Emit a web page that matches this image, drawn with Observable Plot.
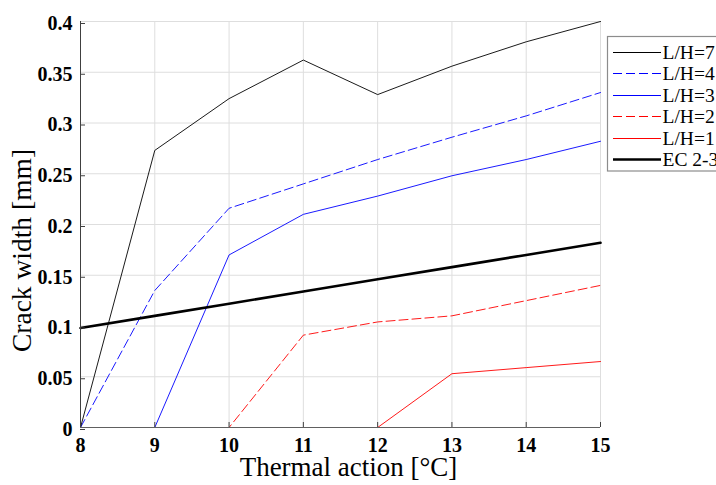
<!DOCTYPE html>
<html>
<head>
<meta charset="utf-8">
<script src="https://cdn.jsdelivr.net/npm/d3@7"></script>
<script src="https://cdn.jsdelivr.net/npm/@observablehq/plot@0.6"></script>
<style>
  html, body { margin: 0; padding: 0; background: #fff; }
  #chart { position: relative; width: 716px; height: 485px; overflow: hidden; }
  #chart svg, #chart svg text { font-family: "Liberation Serif", "Times New Roman", Times, serif; }
</style>
</head>
<body>
<div id="chart"></div>
<script>
const temps = [8, 9, 10, 11, 12, 13, 14, 15];
const lh7 = [0, 0.273, 0.324, 0.362, 0.328, 0.356, 0.380, 0.400];
const lh4 = [0, 0.135, 0.216, 0.240, 0.264, 0.286, 0.307, 0.330];
const lh3 = [0, 0, 0.170, 0.210, 0.228, 0.248, 0.264, 0.282];
const lh2 = [0, 0, 0, 0.091, 0.104, 0.110, 0.125, 0.140];
const lh1 = [0, 0, 0, 0, 0, 0.053, 0.059, 0.065];
const ec23 = [0.098, 0.110, 0.122, 0.134, 0.146, 0.158, 0.170, 0.182];
const seriesNames = ["L/H=7", "L/H=4", "L/H=3", "L/H=2", "L/H=1", "EC 2-3"];
const xTicks = [8, 9, 10, 11, 12, 13, 14, 15];
const yTicks = [0, 0.05, 0.1, 0.15, 0.2, 0.25, 0.3, 0.35, 0.4];
const xLabel = "Thermal action [°C]";
const yLabel = "Crack width [mm]";

const styles = [
  {stroke: "#000000", width: 0.9, dash: null},
  {stroke: "#0000ff", width: 0.9, dash: "9,4"},
  {stroke: "#0000ff", width: 0.9, dash: null},
  {stroke: "#ff0000", width: 0.9, dash: "9,4"},
  {stroke: "#ff0000", width: 0.9, dash: null},
  {stroke: "#000000", width: 2.6, dash: null}
];
const allSeries = [lh7, lh4, lh3, lh2, lh1, ec23];
const tables = allSeries.map(vals => temps.map((t, i) => ({t, v: vals[i]})));

const font = "Liberation Serif";
const axisColor = "#404040";

const lineMarks = tables.map((tbl, k) => Plot.line(tbl, {
  x: "t", y: "v",
  stroke: styles[k].stroke,
  strokeWidth: styles[k].width,
  strokeDasharray: styles[k].dash
}));

const chart = Plot.plot({
  width: 716,
  height: 485,
  marginLeft: 80,
  marginRight: 116,
  marginTop: 21,
  marginBottom: 58,
  style: {fontFamily: font, background: "#fff", overflow: "visible"},
  x: {domain: [8, 15]},
  y: {domain: [0, 0.4]},
  marks: [
    Plot.gridX(xTicks, {stroke: "#dedede", strokeOpacity: 1, strokeWidth: 1}),
    Plot.gridY(yTicks, {stroke: "#dedede", strokeOpacity: 1, strokeWidth: 1}),
    ...lineMarks.slice(0, 5).reverse(),
    lineMarks[5],
    Plot.ruleX([8], {stroke: axisColor, strokeWidth: 1}),
    Plot.ruleY([0], {stroke: "#606060", strokeWidth: 1}),
    Plot.axisX(xTicks, {
      tickSize: -5, stroke: axisColor, tickPadding: 15,
      tickFormat: d => String(d),
      fontSize: 20, fontWeight: "bold", fill: "#000", fontFamily: font,
      label: null
    }),
    Plot.axisY(yTicks, {
      tickSize: -5, stroke: axisColor, tickPadding: 13, dy: 2,
      tickFormat: d => String(+d.toFixed(2)),
      fontSize: 20, fontWeight: "bold", fill: "#000", fontFamily: font,
      label: null
    }),
    Plot.text([xLabel], {
      frameAnchor: "bottom", dy: 40, dx: 8, text: d => d, fontFamily: font,
      fontSize: 27, fill: "#000", lineAnchor: "middle", textAnchor: "middle"
    }),
    Plot.text([yLabel], {
      frameAnchor: "left", dx: -58, dy: 26, rotate: -90, text: d => d, fontFamily: font,
      fontSize: 27.5, fill: "#000", textAnchor: "middle", lineAnchor: "middle"
    })
  ]
});

document.getElementById("chart").appendChild(chart);

// Legend
const svg = d3.select(chart);
const lg = svg.append("g").attr("font-family", font).attr("text-anchor", "start");
lg.append("rect")
  .attr("x", 607.5).attr("y", 36.5)
  .attr("width", 130).attr("height", 134.5)
  .attr("fill", "#fff").attr("stroke", "#8c8c8c").attr("stroke-width", 1.2);
const rowY = [52.5, 73.5, 95.5, 116.5, 138.5, 159.5];
seriesNames.forEach((name, k) => {
  const y = rowY[k];
  lg.append("line")
    .attr("x1", 613).attr("x2", 661).attr("y1", y).attr("y2", y)
    .attr("stroke", styles[k].stroke)
    .attr("stroke-width", styles[k].width === 0.9 ? 1 : 2.6)
    .attr("stroke-dasharray", styles[k].dash);
  lg.append("text")
    .attr("x", 662.5).attr("y", y).attr("dy", "0.35em")
    .attr("text-anchor", "start")
    .attr("font-family", font)
    .attr("font-size", 19.5).attr("fill", "#000")
    .text(name);
});
</script>
</body>
</html>
